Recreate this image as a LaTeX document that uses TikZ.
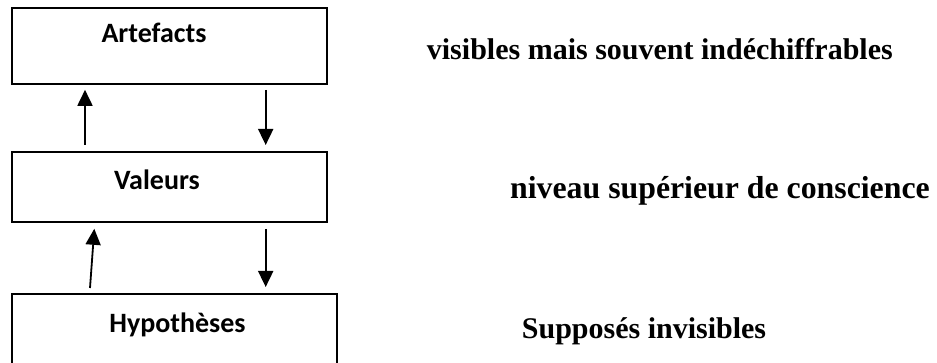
\documentclass[tikz,border=0pt]{standalone}
\usepackage{fontspec}
\setmainfont{Liberation Serif}
\newfontfamily\boxfont{Carlito}
\usetikzlibrary{arrows.meta}
\tikzset{
  levelbox/.style={draw=black, line width=1.8pt, fill=white, rectangle, anchor=north west, inner sep=0pt},
  boxlabel/.style={font=\boxfont\bfseries\fontsize{28}{30}\selectfont, anchor=base, inner sep=0pt},
  sidelabel/.style={font=\bfseries\fontsize{30}{32}\selectfont, anchor=base west, inner sep=0pt},
  flow/.style={line width=1.8pt, -{Triangle[width=15pt,length=16pt]}}
}
\begin{document}
\begin{tikzpicture}[x=1pt,y=-1pt]
  \useasboundingbox (0,0) rectangle (937,363);
  \clip (0,0) rectangle (937,363);

  % the three levels
  \node[levelbox, minimum width=314.7pt, minimum height=76pt] (art) at (11,7) {};
  \node[levelbox, minimum width=315pt, minimum height=70pt] (val) at (11,151) {};
  \node[levelbox, minimum width=324.7pt, minimum height=90pt] (hyp) at (11,293) {};

  \node[boxlabel] (artlbl) at (154,43) {Artefacts};
  \node[boxlabel] (vallbl) at (157,190) {Valeurs};
  \node[boxlabel] (hyplbl) at (177.5,333) {Hypothèses};

  % exchanges between levels
  \draw[flow] ([xshift=74pt,yshift=6pt]val.north west) -- ([xshift=74pt,yshift=-5pt]art.south west);
  \draw[flow] ([xshift=254.7pt,yshift=-5pt]art.south west) -- ([xshift=254.7pt,yshift=6pt]val.north west);
  \draw[flow] ([xshift=79pt,yshift=5pt]hyp.north west) -- ([xshift=83.3pt,yshift=-6pt]val.south west);
  \draw[flow] ([xshift=254.7pt,yshift=-6pt]val.south west) -- ([xshift=254.7pt,yshift=6pt]hyp.north west);

  % descriptions
  \node[sidelabel] (artdesc) at (426.7,60) {visibles mais souvent indéchiffrables};
  \node[sidelabel, font=\bfseries\fontsize{31.8}{34}\selectfont] (valdesc) at (510,199) {niveau supérieur de conscience};
  \node[sidelabel] (hypdesc) at (521.7,338) {Supposés invisibles};
\end{tikzpicture}
\end{document}
